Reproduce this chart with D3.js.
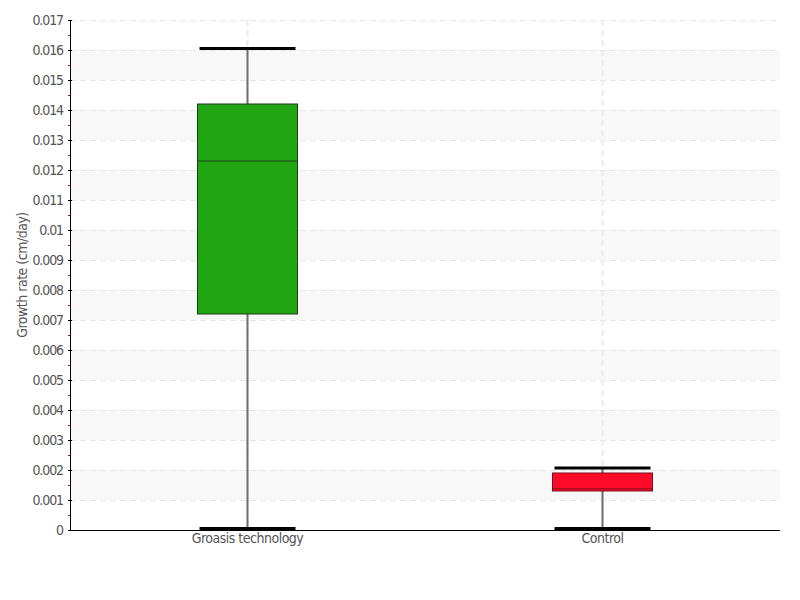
<!DOCTYPE html>
<html>
<head>
<meta charset="utf-8">
<script src="https://cdn.jsdelivr.net/npm/d3@7"></script>
<style>
  body { margin: 0; background: #fff; }
  text { font-family: "DejaVu Sans", sans-serif; font-stretch: condensed; fill: #555; }
</style>
</head>
<body>
<div id="viz"></div>
<script>
// box plot values
var categories = ["Groasis technology", "Control"];
var whiskerLow = [0, 0];
var q1 = [0.0072, 0.0013];
var median = [0.0123, 0.00137];
var q3 = [0.0142, 0.0019];
var whiskerHigh = [0.01605, 0.00207];
var fills = ["#22a512", "#ff0a28"];
var strokes = ["#1d3d18", "#7a1020"];
var yTicks = d3.range(0, 17.5, 1).map(function(i) { return i / 1000; });

var width = 800, height = 600;
var mLeft = 70, mRight = 780, mTop = 20, mBottom = 530;

var svg = d3.select("#viz").append("svg")
    .attr("width", width)
    .attr("height", height);

var x = d3.scaleBand().domain(categories).range([mLeft, mRight]);
var y = d3.scaleLinear().domain([0, 0.017]).range([mBottom, mTop]);

// alternating bands
var bands = d3.range(1, 17, 2).map(function(i) { return [i / 1000, (i + 1) / 1000]; });
svg.selectAll(".band").data(bands).enter().append("rect")
    .attr("x", mLeft)
    .attr("width", mRight - mLeft)
    .attr("y", function(d) { return y(d[1]); })
    .attr("height", function(d) { return y(d[0]) - y(d[1]); })
    .attr("fill", "#f8f8f8");

// grid
svg.selectAll(".hgrid").data(yTicks.slice(1)).enter().append("line")
    .attr("x1", mLeft).attr("x2", mRight)
    .attr("y1", function(d) { return Math.round(y(d)) + 0.5; })
    .attr("y2", function(d) { return Math.round(y(d)) + 0.5; })
    .attr("stroke", "#e6e6e6")
    .attr("stroke-dasharray", "6,4");

svg.selectAll(".vgrid").data(categories).enter().append("line")
    .attr("x1", function(d) { return x(d) + x.bandwidth() / 2; })
    .attr("x2", function(d) { return x(d) + x.bandwidth() / 2; })
    .attr("y1", mTop).attr("y2", mBottom)
    .attr("stroke", "#ececec")
    .attr("stroke-width", 2)
    .attr("stroke-dasharray", "6,4");

// minor ticks (red)
svg.selectAll(".minor").data(d3.range(0, 17).map(function(i) { return (i + 0.5) / 1000; }))
    .enter().append("line")
    .attr("x1", mLeft - 2).attr("x2", mLeft)
    .attr("y1", function(d) { return Math.round(y(d)) + 0.5; })
    .attr("y2", function(d) { return Math.round(y(d)) + 0.5; })
    .attr("stroke", "#cc0000");

// y axis
var yAxis = svg.append("g")
    .attr("transform", "translate(" + mLeft + ",0)")
    .call(d3.axisLeft(y).tickValues(yTicks).tickSize(3).tickPadding(4)
        .tickFormat(function(d) { return d === 0 ? "0" : d3.format(".3~f")(d); }));
yAxis.select(".domain").attr("stroke", "#000").attr("d", "M0.5," + mTop + "V" + mBottom);
yAxis.selectAll(".tick line").attr("stroke", "#000").attr("x1", -2).attr("x2", 2);
yAxis.selectAll("text").style("font-size", "14px").style("letter-spacing", "-1.1px").attr("fill", "#555");

// x axis
var xAxis = svg.append("g")
    .attr("transform", "translate(0," + mBottom + ")")
    .call(d3.axisBottom(x).tickSize(0).tickPadding(3));
xAxis.select(".domain").attr("stroke", "#000").attr("d", "M" + mLeft + ",0.5H" + mRight);
xAxis.selectAll("text").style("font-size", "14px").style("letter-spacing", "-0.5px").attr("fill", "#555");

// y title
svg.append("text")
    .attr("transform", "translate(27," + ((mTop + mBottom) / 2) + ") rotate(-90)")
    .attr("text-anchor", "middle")
    .style("font-size", "14px")
    .style("letter-spacing", "-0.5px")
    .text("Growth rate (cm/day)");

// boxes
var boxW = 100, capW = 96;
categories.forEach(function(c, i) {
    var cx = x(c) + x.bandwidth() / 2;
    var g = svg.append("g");
    g.append("line")
        .attr("x1", cx).attr("x2", cx)
        .attr("y1", y(whiskerHigh[i])).attr("y2", y(q3[i]))
        .attr("stroke", "#6e6e6e").attr("stroke-width", 2);
    g.append("line")
        .attr("x1", cx).attr("x2", cx)
        .attr("y1", y(q1[i])).attr("y2", y(whiskerLow[i]))
        .attr("stroke", "#6e6e6e").attr("stroke-width", 2);
    g.append("rect")
        .attr("x", cx - boxW / 2)
        .attr("width", boxW)
        .attr("y", y(q3[i]))
        .attr("height", y(q1[i]) - y(q3[i]))
        .attr("fill", fills[i])
        .attr("stroke", strokes[i])
        .attr("stroke-width", 1);
    g.append("line")
        .attr("x1", cx - boxW / 2).attr("x2", cx + boxW / 2)
        .attr("y1", y(median[i])).attr("y2", y(median[i]))
        .attr("stroke", strokes[i]).attr("stroke-width", 1);
    [whiskerHigh[i], whiskerLow[i]].forEach(function(v) {
        var yy = y(v) - (v === 0 ? 1.5 : 0);
        g.append("line")
            .attr("x1", cx - capW / 2).attr("x2", cx + capW / 2)
            .attr("y1", yy).attr("y2", yy)
            .attr("stroke", "#000").attr("stroke-width", 3);
    });
});
</script>
</body>
</html>
